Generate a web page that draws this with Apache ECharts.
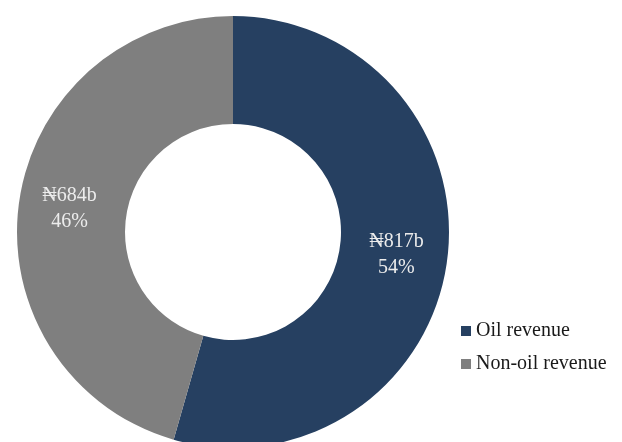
<!DOCTYPE html>
<html>
<head>
<meta charset="utf-8">
<script src="https://cdn.jsdelivr.net/npm/echarts@6/dist/echarts.min.js"></script>
<style>
html,body{margin:0;padding:0;background:#fff;}
#chart{width:622px;height:442px;}
</style>
</head>
<body>
<div id="chart"></div>
<script>
const categories = ['Oil revenue', 'Non-oil revenue'];
const values = [817, 684];
const colors = ['#264061', '#7f7f7f'];

const chart = echarts.init(document.getElementById('chart'), null, {renderer: 'canvas'});
const fontFamily = '"Liberation Serif", "DejaVu Serif", serif';
chart.setOption({
  animation: false,
  color: colors,
  legend: {
    orient: 'vertical',
    left: 456,
    top: 316,
    itemWidth: 10,
    itemHeight: 10,
    itemGap: 13,
    itemTextGap: 5,
    icon: 'rect',
    textStyle: {fontFamily: fontFamily, fontSize: 20, color: '#1a1a1a'},
    data: categories
  },
  series: [{
    type: 'pie',
    center: [233, 232],
    radius: [108, 216],
    startAngle: 90,
    clockwise: true,
    avoidLabelOverlap: false,
    itemStyle: {borderWidth: 0},
    label: {
      show: true,
      position: 'inside',
      fontFamily: fontFamily,
      fontSize: 20,
      lineHeight: 26,
      color: '#ececec',
      formatter: function (p) {
        return '\u20A6' + p.value + 'b\n' + Math.round(p.percent) + '%';
      }
    },
    labelLine: {show: false},
    emphasis: {disabled: true},
    data: categories.map((c, i) => ({name: c, value: values[i]}))
  }]
});
</script>
</body>
</html>
